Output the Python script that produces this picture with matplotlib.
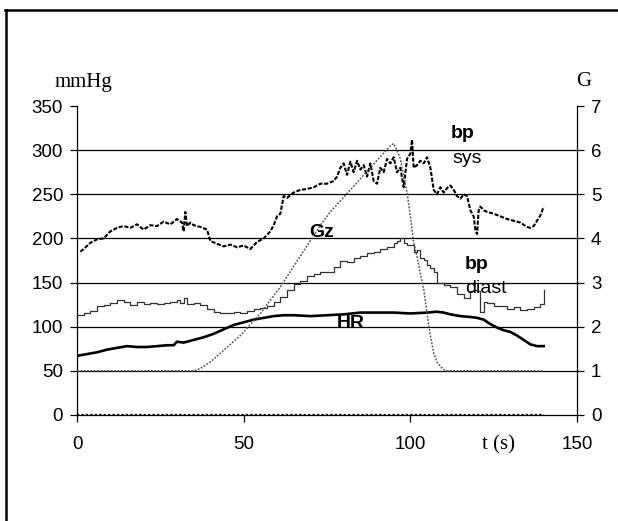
import matplotlib
matplotlib.use("Agg")
import matplotlib.pyplot as plt
from matplotlib.lines import Line2D

# ---- data ----
t_sys = [1, 2, 4, 6, 8, 10, 12, 14, 16, 18, 20, 22, 24, 26, 28, 30, 31.5, 32, 32.5, 33, 34, 35, 37, 39, 40,
         42, 44, 46, 48, 50, 52, 54, 56, 58, 59, 60, 61, 62, 63, 65, 67, 69, 71, 73, 75, 77, 78, 79, 80, 81,
         82, 83, 84, 85, 86, 87, 88, 89, 90, 91, 92, 93, 94, 95, 96, 97, 98, 99, 100, 100.5, 101, 102, 103,
         104, 105, 106, 107, 108, 109, 110, 111, 112, 113, 114, 115, 116, 117, 118, 119, 119.5, 120, 120.5,
         121, 122, 123, 125, 127, 129, 131, 133, 135, 136, 137, 138, 139, 140]
bp_sys = [185, 188, 195, 199, 200, 208, 212, 214, 212, 216, 210, 215, 214, 219, 216, 222, 218, 208, 230, 214,
          218, 215, 213, 210, 197, 194, 191, 193, 190, 192, 188, 196, 200, 208, 215, 225, 228, 248, 246, 252,
          255, 256, 258, 262, 262, 265, 270, 280, 285, 272, 287, 275, 288, 278, 283, 270, 285, 265, 262, 280,
          275, 290, 285, 292, 275, 280, 258, 290, 296, 312, 280, 283, 288, 285, 292, 280, 255, 250, 258, 252,
          257, 260, 255, 248, 245, 250, 248, 232, 225, 210, 205, 232, 236, 232, 230, 228, 225, 222, 220, 218,
          213, 212, 214, 220, 226, 236]

t_dia = [0, 2, 4, 6, 8, 10, 12, 14, 16, 18, 20, 22, 24, 26, 28, 30, 31, 32, 33, 35, 37, 39, 41, 43, 45, 47, 49,
         51, 53, 55, 57, 59, 61, 63, 65, 67, 69, 71, 73, 75, 77, 79, 81, 83, 85, 87, 89, 91, 93, 95, 96, 97, 98,
         99, 100, 101, 102, 103, 104, 105, 106, 107, 108, 110, 112, 114, 116, 118, 119, 120, 121, 122, 123, 125,
         127, 129, 131, 133, 135, 137, 139, 140]
bp_diast = [113, 115, 118, 123, 125, 127, 130, 128, 125, 128, 126, 127, 126, 127, 128, 130, 127, 133, 126, 127,
            125, 120, 117, 116, 116, 117, 116, 118, 120, 121, 124, 128, 134, 142, 148, 152, 158, 160, 162, 162,
            168, 175, 173, 178, 180, 183, 185, 188, 190, 195, 197, 200, 195, 192, 193, 185, 187, 178, 176, 170,
            167, 162, 150, 147, 145, 137, 133, 140, 142, 140, 117, 128, 127, 124, 123, 120, 122, 119, 120, 122,
            126, 142]

t_hr = [0, 3, 6, 9, 12, 15, 18, 21, 24, 27, 29, 30, 32, 35, 38, 41, 44, 47, 50, 53, 56, 59, 62, 65, 70, 75, 80,
        85, 90, 95, 100, 105, 108, 110, 112, 115, 118, 120, 122, 124, 126, 128, 130, 132, 134, 136, 138, 140]
hr = [67, 69, 71, 74, 76, 78, 77, 77, 78, 79, 79, 83, 82, 85, 88, 92, 97, 102, 105, 108, 110, 112, 113, 113,
      112, 113, 114, 116, 116, 116, 115, 116, 117, 116, 114, 112, 111, 110, 108, 103, 99, 96, 94, 90, 85, 80,
      78, 78]

t_gz = [0, 35, 37, 40, 43, 46, 49, 52, 55, 58, 61, 64, 67, 70, 73, 76, 79, 82, 85, 88, 91, 94, 95, 96, 97, 98,
        99, 100, 101, 102, 103, 104, 105, 106, 107, 108, 109, 110, 111, 140]
gz = [1, 1, 1.05, 1.2, 1.4, 1.6, 1.8, 2.05, 2.3, 2.6, 2.9, 3.25, 3.6, 3.95, 4.3, 4.6, 4.85, 5.1, 5.35, 5.6,
      5.85, 6.1, 6.15, 6.0, 5.8, 5.4, 5.05, 4.5, 3.9, 3.6, 3.2, 2.85, 2.3, 1.8, 1.4, 1.2, 1.1, 1.03, 1.0, 1.0]

t_zero = [0, 140]
zero_line = [0, 0]

x_ticks = [0, 50, 100, 150]
y_ticks = [0, 50, 100, 150, 200, 250, 300, 350]
g_ticks = [0, 1, 2, 3, 4, 5, 6, 7]

# ---- figure ----
fig = plt.figure(figsize=(6.18, 5.21), dpi=100)
fig.patch.set_facecolor("white")
ax = fig.add_axes([0.1246, 0.2035, 0.8091, 0.593])
ax2 = ax.twinx()

sans = "Liberation Sans"
serif = "Liberation Serif"

ax.set_xlim(0, 150)
ax.set_ylim(0, 350)
ax2.set_ylim(0, 7)

for y in y_ticks[1:-1]:
    ax.axhline(y, color="black", lw=0.9, zorder=1)

ax.plot(t_zero, zero_line, color="black", lw=1.6, ls=(0, (1, 1)), zorder=2)
ax.plot(t_dia, bp_diast, color="#333333", lw=0.9, drawstyle="steps-post", zorder=3)
ax.plot(t_hr, hr, color="black", lw=1.9, zorder=4)
ax.plot(t_sys, bp_sys, color="black", lw=1.5, ls=(0, (2, 0.8)), zorder=5)
ax2.plot(t_gz, gz, color="#555555", lw=1.1, ls=(0, (1.2, 1)), zorder=5)

for a in (ax, ax2):
    a.spines["top"].set_visible(False)
    a.patch.set_visible(False)
ax.spines["right"].set_visible(False)
ax.spines["left"].set_linewidth(0.9)
ax.spines["bottom"].set_linewidth(0.9)
ax2.spines["left"].set_visible(False)
ax2.spines["bottom"].set_visible(False)
ax2.spines["right"].set_linewidth(0.9)

ax.set_xticks(x_ticks)
ax.set_yticks(y_ticks)
ax2.set_yticks(g_ticks)
ax.tick_params(axis="both", direction="out", length=5, width=0.9, labelsize=13.5, pad=5)
ax.tick_params(axis="x", pad=10)
ax2.tick_params(axis="y", direction="out", length=5, width=0.9, labelsize=13.5, pad=5)
for lab in ax.get_xticklabels() + ax.get_yticklabels() + ax2.get_yticklabels():
    lab.set_fontfamily(sans)

# annotations
fs = 14
ax.text(115.8, 319, "bp", fontsize=fs, fontfamily=sans, fontweight="bold", ha="center", va="center")
ax.text(117, 290, "sys", fontsize=fs, fontfamily=sans, ha="center", va="center")
ax.text(73.3, 207, "Gz", fontsize=fs, fontfamily=sans, fontweight="bold", ha="center", va="center")
ax.text(120, 171, "bp", fontsize=fs, fontfamily=sans, fontweight="bold", ha="center", va="center")
ax.text(122.7, 143, "diast", fontsize=fs, fontfamily=sans, ha="center", va="center")
ax.text(82, 104, "HR", fontsize=fs, fontfamily=sans, fontweight="bold", ha="center", va="center")

fig.text(83 / 618, 1 - 82 / 521, "mmHg", fontsize=15, fontfamily=serif, ha="center", va="center")
fig.text(584 / 618, 1 - 82 / 521, "G", fontsize=15, fontfamily=serif, ha="center", va="center")
fig.text(498 / 618, 1 - 445 / 521, "t (s)", fontsize=15, fontfamily=serif, ha="center", va="center")

# frame lines of the picture
fig.add_artist(Line2D([6 / 618, 6 / 618], [0, 1 - 10 / 521], color="black", lw=1.8))
fig.add_artist(Line2D([5 / 618, 1], [1 - 10 / 521, 1 - 10 / 521], color="black", lw=1.8))

fig.savefig("out.png", dpi=100, facecolor="white")
